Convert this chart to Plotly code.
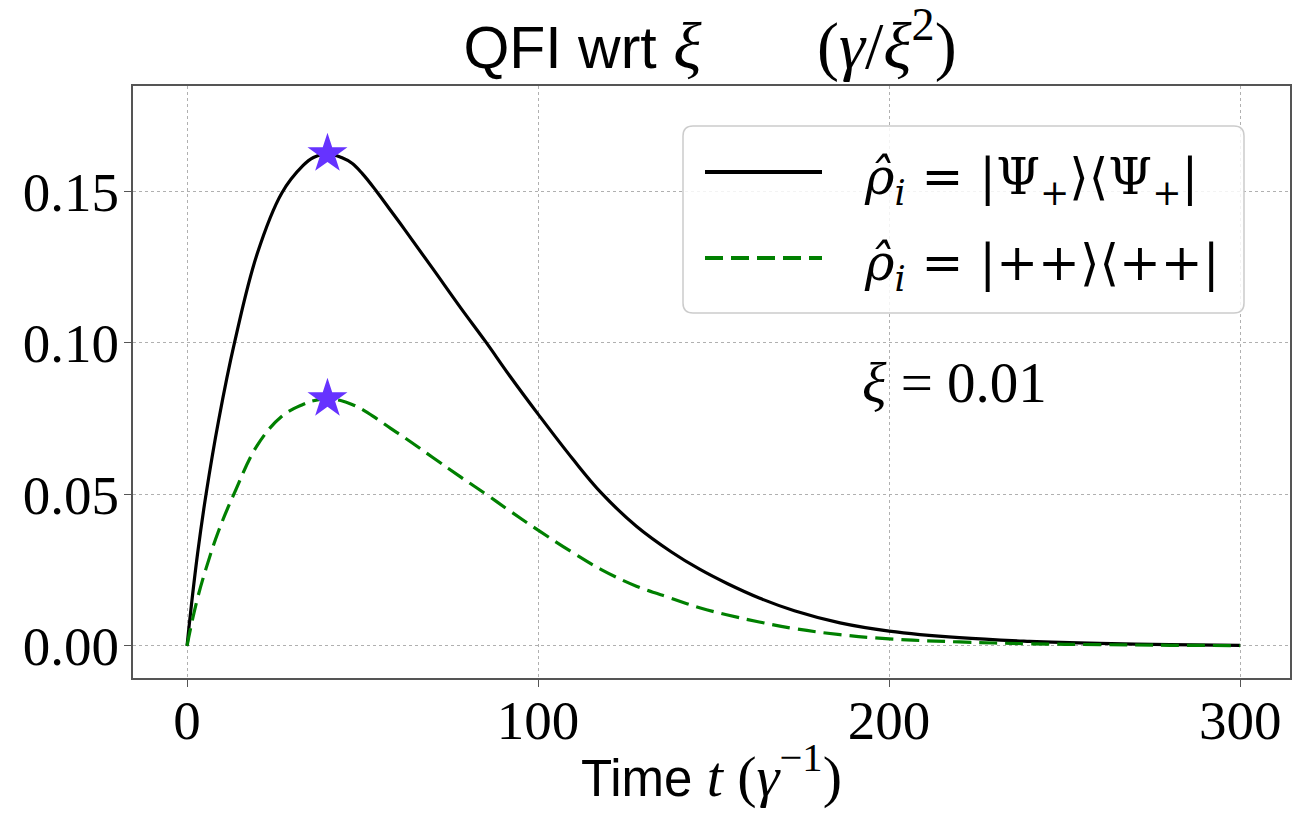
import plotly.graph_objects as go

# ---- data ----
t_vals = [0, 1, 3, 5.4, 9, 13.5, 20, 27, 33, 36, 40, 44, 47, 50, 54, 58, 62, 70, 78, 85,
          92, 100, 110, 118, 128, 138, 146, 154, 163, 173, 186, 200, 220, 240, 260, 280, 300]
qfi_psi = [0, 0.0110, 0.0305, 0.0500, 0.0745, 0.1000, 0.1295, 0.1495, 0.1585, 0.1612,
           0.1624, 0.1612, 0.1593, 0.1558, 0.1500, 0.1437, 0.1374, 0.1245, 0.1115,
           0.1005, 0.0890, 0.0765, 0.0615, 0.0505, 0.0395, 0.0310, 0.0253, 0.0205,
           0.0158, 0.0116, 0.0076, 0.0049, 0.0027, 0.0015, 0.0008, 0.0004, 0.0002]
qfi_pp = [0, 0.0058, 0.0158, 0.0255, 0.0380, 0.0505, 0.0662, 0.0758, 0.0797, 0.0809,
          0.0816, 0.0809, 0.0797, 0.0780, 0.0750, 0.0718, 0.0687, 0.0622, 0.0557,
          0.0502, 0.0445, 0.0382, 0.0307, 0.0252, 0.0197, 0.0157, 0.0126, 0.0102,
          0.0079, 0.0057, 0.0037, 0.0023, 0.0013, 0.0007, 0.0004, 0.0002, 0.0001]

peak_t = [40, 40]
peak_v = [0.1624, 0.0816]

x_ticks = [0, 100, 200, 300]
y_ticks = [0.00, 0.05, 0.10, 0.15]
y_tick_text = ["0.00", "0.05", "0.10", "0.15"]

label_psi = "<i>ρ̂<sub>i</sub></i> = |Ψ<sub>+</sub>⟩⟨Ψ<sub>+</sub>|"
label_pp = "<i>ρ̂<sub>i</sub></i> = |++⟩⟨++|"

SERIF = "Liberation Serif, DejaVu Serif, serif"
MATH = "DejaVu Serif, serif"
SANS = "Liberation Sans, DejaVu Sans, sans-serif"

fig = go.Figure()
fig.add_trace(go.Scatter(x=t_vals, y=qfi_psi, mode="lines", name=label_psi,
                         line=dict(color="black", width=3.2, shape="spline", smoothing=1.1),
                         showlegend=False))
fig.add_trace(go.Scatter(x=t_vals, y=qfi_pp, mode="lines", name=label_pp,
                         line=dict(color="#008000", width=3.2, dash="18px,8px",
                                   shape="spline", smoothing=1.1),
                         showlegend=False))
fig.add_trace(go.Scatter(x=peak_t, y=peak_v, mode="markers", name="max",
                         marker=dict(symbol="star", size=30, color="#6633ff",
                                     line=dict(width=0)),
                         showlegend=False))

W, H = 1294, 817
L, R, T, B = 133, 4, 86, 139
pw, ph = W - L - R, H - T - B


def px(xp):
    return (xp - L) / pw


def py(yp):
    return (H - B - yp) / ph


# legend box with rounded corners
x0, x1, y0, y1 = px(683), px(1244), py(313), py(126)
rx, ry = 10 / pw, 10 / ph
path = (f"M {x0+rx},{y0} L {x1-rx},{y0} Q {x1},{y0} {x1},{y0+ry} "
        f"L {x1},{y1-ry} Q {x1},{y1} {x1-rx},{y1} L {x0+rx},{y1} "
        f"Q {x0},{y1} {x0},{y1-ry} L {x0},{y0+ry} Q {x0},{y0} {x0+rx},{y0} Z")
fig.add_shape(type="path", path=path, xref="paper", yref="paper",
              fillcolor="rgba(255,255,255,0.85)", line=dict(color="#cccccc", width=1.5),
              layer="above")
fig.add_shape(type="line", xref="paper", yref="paper", x0=px(705), x1=px(822),
              y0=py(172), y1=py(172), line=dict(color="black", width=4), layer="above")
fig.add_shape(type="line", xref="paper", yref="paper", x0=px(705), x1=px(822),
              y0=py(258), y1=py(258), line=dict(color="#008000", width=4, dash="18px,8px"),
              layer="above")
fig.add_annotation(xref="paper", yref="paper", x=px(862), y=py(180), text=label_psi,
                   showarrow=False, xanchor="left", yanchor="middle",
                   font=dict(family=MATH, size=50, color="black"))
fig.add_annotation(xref="paper", yref="paper", x=px(862), y=py(266), text=label_pp,
                   showarrow=False, xanchor="left", yanchor="middle",
                   font=dict(family=MATH, size=50, color="black"))

fig.add_annotation(x=218.5, y=0.0868, text="<i>ξ</i> = 0.01", showarrow=False,
                   xanchor="center", yanchor="middle",
                   font=dict(family=SERIF, size=57, color="black"))

fig.update_layout(
    width=W, height=H,
    margin=dict(l=L, r=R, t=T, b=B, autoexpand=False),
    paper_bgcolor="white", plot_bgcolor="white",
    title=dict(text="QFI wrt <span style='font-family:Liberation Serif;font-size:66px'>"
                    "<i>ξ</i>       (<i>γ</i>/<i>ξ</i><sup>2</sup>)</span>",
               x=710 / W, xanchor="center", y=1 - 47 / H, yanchor="middle",
               yref="container", automargin=False,
               font=dict(family=SANS, size=59, color="black")),
    font=dict(family=SERIF, color="black"),
)

axis_common = dict(showline=True, linecolor="#555555", linewidth=1.8, mirror=True,
                   ticks="outside", ticklen=7, tickwidth=1.2, tickcolor="#555555",
                   showgrid=True, gridcolor="#b0b0b0", gridwidth=1.2, griddash="dot",
                   zeroline=False, automargin=False,
                   tickfont=dict(family=SERIF, size=55, color="black"))

fig.update_xaxes(range=[-15.4, 314.2], tickvals=x_ticks, ticklabelstandoff=-14,
                 title=dict(text="Time <span style='font-family:Liberation Serif;font-size:58px'>"
                                 "<i>t</i> (<i>γ</i><sup>−1</sup>)</span>",
                            font=dict(family=SANS, size=51, color="black"), standoff=10),
                 **axis_common)
fig.update_yaxes(range=[-0.0106, 0.1848], tickvals=y_ticks, ticktext=y_tick_text,
                 ticklabelstandoff=-6, **axis_common)

fig.write_html("out.html", config={"displayModeBar": False},
               post_script="document.body.style.margin='0';"
                           "document.body.style.overflow='hidden';"
                           "document.documentElement.style.overflow='hidden';")
